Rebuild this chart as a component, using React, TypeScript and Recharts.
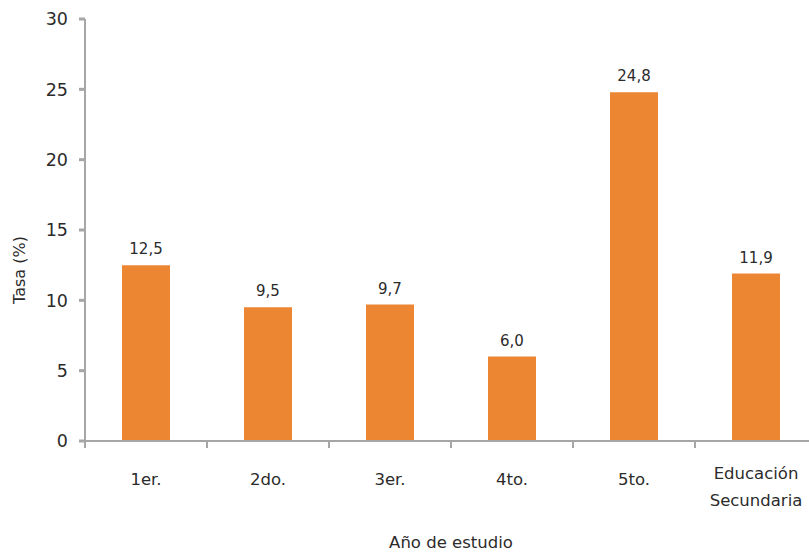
import React from "react"
import { BarChart, Bar, XAxis, YAxis, LabelList, Label } from "recharts"

const categories = ["1er.", "2do.", "3er.", "4to.", "5to.", "Educación\nSecundaria"]
const rates = [12.5, 9.5, 9.7, 6.0, 24.8, 11.9]
const yTicks = [0, 5, 10, 15, 20, 25, 30]

const data = categories.map((name, i) => ({ name, value: rates[i] }))

const FONT = "'DejaVu Sans', Verdana, sans-serif"
const AXIS = "#A6A6A6"
const TEXT = "#2b2b2b"

// category label plus the small separator marks between bands
const CategoryTick = (props: any) => {
  const { x, y, payload, index, visibleTicksCount } = props
  const half = payload.offset || 0
  const lines = String(payload.value).split("\n")
  const start = lines.length > 1 ? 38 : 44
  return (
    <g transform={`translate(${x},${y})`}>
      <line x1={-half} x2={-half} y1={0} y2={7} stroke={AXIS} strokeWidth={2} />
      {index === visibleTicksCount - 1 && <line x1={half} x2={half} y1={0} y2={7} stroke={AXIS} strokeWidth={2} />}
      {lines.map((line: string, i: number) => (
        <text key={i} x={0} y={start + i * 27} textAnchor="middle" fill={TEXT} fontSize={16.5} fontFamily={FONT}>
          {line}
        </text>
      ))}
    </g>
  )
}

const fmt = (v: any) => Number(v).toFixed(1).replace(".", ",")

export default function App() {
  return (
    <div style={{ position: "absolute", left: 0, top: 0, width: 809, height: 552, overflow: "hidden", background: "#fff" }}>
      <BarChart width={830} height={552} data={data} margin={{ top: 19, right: 13, left: 0, bottom: 0 }} barSize={48}>
        <XAxis
          dataKey="name"
          height={111}
          interval={0}
          tick={<CategoryTick />}
          tickSize={0}
          tickMargin={0}
          axisLine={{ stroke: AXIS, strokeWidth: 2 }}
          tickLine={false}
        >
          <Label value="Año de estudio" position="insideBottom" offset={4} fill={TEXT} fontSize={16.5} fontFamily={FONT} />
        </XAxis>
        <YAxis
          width={85}
          domain={[0, 30]}
          ticks={yTicks}
          tickSize={6}
          tickMargin={11}
          tick={{ fill: TEXT, fontSize: 17.5, fontFamily: FONT }}
          axisLine={{ stroke: AXIS, strokeWidth: 2 }}
          tickLine={{ stroke: AXIS, strokeWidth: 3 }}
        >
          <Label
            content={() => (
              <text x={20} y={270} transform="rotate(-90 20 270)" textAnchor="middle" dominantBaseline="middle" fill={TEXT} fontSize={16} fontFamily={FONT}>
                Tasa (%)
              </text>
            )}
          />
        </YAxis>
        <Bar dataKey="value" fill="#ED8633" isAnimationActive={false}>
          <LabelList dataKey="value" position="top" offset={11} formatter={fmt} fill={TEXT} fontSize={15} fontFamily={FONT} />
        </Bar>
      </BarChart>
    </div>
  )
}
